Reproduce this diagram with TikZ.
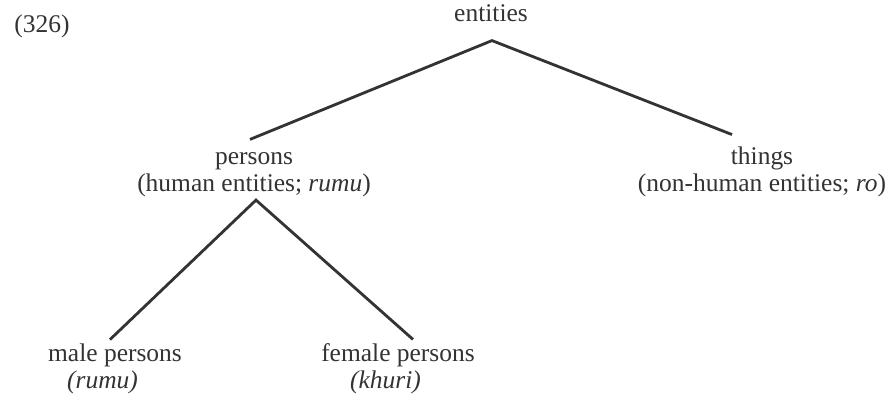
\documentclass[tikz,border=0pt]{standalone}
\usepackage{fontspec}
\setmainfont{Liberation Serif}
\begin{document}
\begin{tikzpicture}[
  x=0.02cm, y=-0.02cm,
  term/.style={font=\fontsize{14.5}{15.4}\selectfont, text=black!80, inner sep=0pt, align=center},
  branch/.style={line width=1.6pt, black!80}
]
\useasboundingbox (0,0) rectangle (889,394);
\node[term, anchor=base] (num) at (42,33) {(326)};
\node[term, anchor=base] (entities) at (491,22) {entities};
\node[term] (persons) at (254,175) {persons\\(human entities; \textit{rumu})};
\node[term] (things) at (762,172) {things\\(non-human entities; \textit{ro})};
\node[term] (male) at (115,369) {male persons\\\textit{(rumu)}\hspace*{0.5cm}};
\node[term] (female) at (398,369) {female persons\\\textit{(khuri)}\hspace*{0.5cm}};
\draw[branch] ([shift={(-4,-13)}]persons.north) -- ([shift={(1,18)}]entities.south) -- ([shift={(-30,-12)}]things.north);
\draw[branch] ([shift={(-5,-4)}]male.north) -- ([shift={(2,2.5)}]persons.south) -- ([shift={(15,-4)}]female.north);
\end{tikzpicture}
\end{document}
